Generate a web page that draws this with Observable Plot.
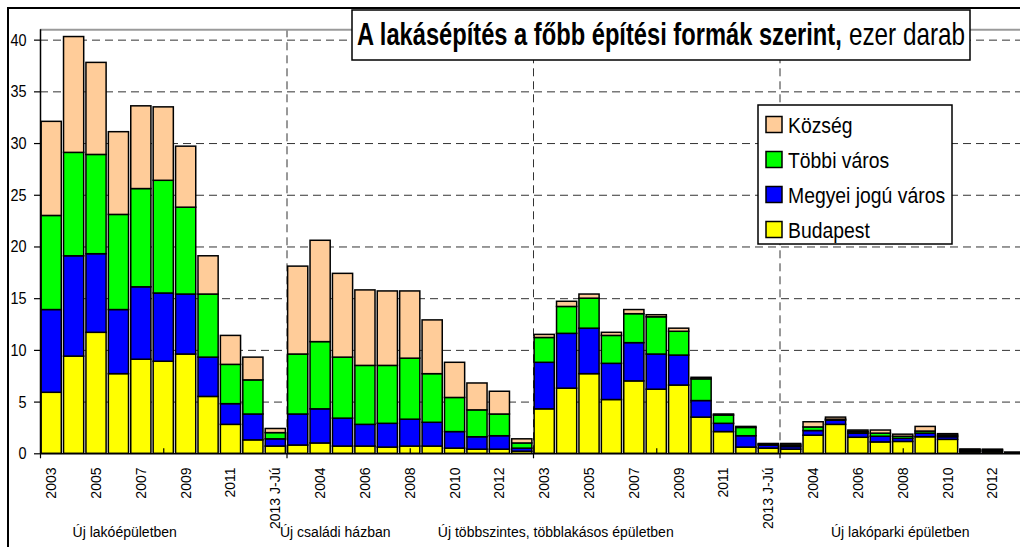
<!DOCTYPE html>
<html><head><meta charset="utf-8">
<script src="https://cdn.jsdelivr.net/npm/d3@7"></script>
<script src="https://cdn.jsdelivr.net/npm/@observablehq/plot@0.6"></script>
<style>
html,body{margin:0;padding:0;background:#fff;overflow:hidden;width:1020px;height:547px;}
#chart{position:relative;width:1020px;height:547px;overflow:hidden;}
</style></head><body><div id="chart"></div>
<script>
// ---------- data ----------
const titleBold = "A lakásépítés a főbb építési formák szerint,";
const titleRest = "ezer darab";
const periods = ["2003","2004","2005","2006","2007","2008","2009","2010","2011","2012","2013 J-Jú"];
const groups = ["Új lakóépületben","Új családi házban","Új többszintes, többlakásos épületben","Új lakóparki épületben"];
const seriesNames = ["Budapest","Megyei jogú város","Többi város","Község"];
const seriesColors = ["#ffff00","#0000ff","#00ff00","#ffcc99"];
const yTicks = [0,5,10,15,20,25,30,35,40];

const budapest = [
  5.9, 9.4, 11.7, 7.7, 9.1, 8.9, 9.6, 5.5, 2.8, 1.3, 0.7,
  0.8, 1.0, 0.7, 0.7, 0.6, 0.7, 0.7, 0.5, 0.4, 0.4, 0.2,
  4.3, 6.3, 7.7, 5.2, 7.0, 6.2, 6.6, 3.5, 2.1, 0.6, 0.5,
  0.4, 1.75, 2.8, 1.55, 1.1, 1.15, 1.6, 1.35, 0.15, 0.15, 0.05
];
const megyei = [
  8.0, 9.7, 7.6, 6.2, 7.0, 6.6, 5.8, 3.8, 2.0, 2.5, 0.7,
  3.0, 3.3, 2.7, 2.1, 2.3, 2.6, 2.3, 1.6, 1.2, 1.3, 0.3,
  4.5, 5.3, 4.4, 3.5, 3.7, 3.4, 2.9, 1.6, 0.8, 1.1, 0.3,
  0.25, 0.45, 0.4, 0.4, 0.55, 0.3, 0.35, 0.25, 0.1, 0.1, 0.02
];
const tobbi = [
  9.1, 10.0, 9.6, 9.2, 9.5, 10.9, 8.4, 6.1, 3.8, 3.3, 0.6,
  5.8, 6.5, 5.9, 5.7, 5.6, 5.9, 4.7, 3.3, 2.6, 2.1, 0.5,
  2.4, 2.6, 2.9, 2.7, 2.8, 3.6, 2.3, 2.1, 0.8, 0.8, 0.1,
  0.15, 0.35, 0.1, 0.15, 0.3, 0.2, 0.2, 0.15, 0.1, 0.1, 0.02
];
const kozseg = [
  9.1, 11.2, 8.9, 8.0, 8.0, 7.1, 5.9, 3.7, 2.8, 2.2, 0.4,
  8.5, 9.8, 8.1, 7.3, 7.2, 6.5, 5.2, 3.4, 2.6, 2.2, 0.4,
  0.3, 0.5, 0.4, 0.3, 0.4, 0.2, 0.3, 0.15, 0.1, 0.1, 0.05,
  0.15, 0.5, 0.2, 0.15, 0.3, 0.2, 0.45, 0.15, 0.07, 0.05, 0.01
];

// ---------- derived tables ----------
const seriesValues = [budapest, megyei, tobbi, kozseg];
const nPer = periods.length;
const nBars = groups.length * nPer;
const rows = [];
for (let k = 0; k < nBars; k++) {
  let cum = 0;
  seriesValues.forEach((arr, s) => {
    const v = arr[k];
    rows.push({idx: k, series: seriesNames[s], y1: cum, y2: cum + v});
    cum += v;
  });
}
const xLabels = [];
for (let k = 0; k < nBars; k += 2) xLabels.push({idx: k, label: periods[k % nPer]});
const boundaries = groups.map((g, i) => i * nPer);
const groupMids = groups.map((g, i) => i * nPer + nPer / 2);

// ---------- layout ----------
const W = 1020, H = 547;
const FONT = "'Liberation Sans', Arial, sans-serif";
const groupLabelDx = [-39, -75, -101, -3];
const gridStyle = {stroke: "#333", strokeDasharray: "8,5", strokeWidth: 1};

const plot = Plot.plot({
  width: W, height: H,
  marginLeft: 40, marginRight: -6, marginTop: 29.3, marginBottom: 93.7,
  x: {domain: [0, nBars], axis: null},
  y: {domain: [0, 41], ticks: yTicks, tickSize: 6, tickPadding: 8, label: null},
  color: {domain: seriesNames, range: seriesColors},
  style: {fontFamily: FONT, fontSize: "17px", color: "#000", background: "transparent", overflow: "hidden"},
  marks: [
    Plot.ruleY(yTicks.filter(d => d > 0), gridStyle),
    Plot.ruleX(boundaries.filter(d => d > 0), gridStyle),
    Plot.ruleY([41], {stroke: "#9a9a9a", strokeWidth: 2}),
    Plot.rect(rows, {x1: d => d.idx + 0.05, x2: d => d.idx + 0.95, y1: "y1", y2: "y2", fill: "series", stroke: "#000", strokeWidth: 1.5}),
    Plot.ruleX([0], {stroke: "#000", strokeWidth: 1.5}),
    Plot.ruleY([0], {stroke: "#000", strokeWidth: 1.5}),
    Plot.ruleX(boundaries, {y1: 0, y2: 0, insetBottom: -5, stroke: "#000", strokeWidth: 1.2}),
    Plot.ruleX(groupMids, {y1: 0, y2: 0, insetTop: -5, stroke: "#000", strokeWidth: 1.2}),
    Plot.text(xLabels, {x: d => d.idx + 0.5, frameAnchor: "bottom", text: "label", rotate: -90,
      textAnchor: "end", lineAnchor: "middle", dy: 13.7, fontSize: 14, fill: "#000", className: "xlab"}),
    ...groups.map((g, i) => Plot.text([g], {x: () => groupMids[i], frameAnchor: "bottom", text: d => d,
      textAnchor: "middle", lineAnchor: "middle", dy: 78.4, dx: groupLabelDx[i], fontSize: 14, fill: "#000", className: "glab"}))
  ]
});
document.getElementById("chart").appendChild(plot);

const svg = d3.select(plot);
function squeeze(sel, k) {
  sel.each(function() {
    const L = this.getComputedTextLength();
    this.setAttribute("textLength", (L * k).toFixed(2));
    this.setAttribute("lengthAdjust", "spacingAndGlyphs");
  });
}
// y tick labels
const ytext = svg.selectAll('[aria-label^="y-axis"] text');
ytext.attr("font-size", 17).style("font-size", "17px").attr("fill", "#000");
squeeze(ytext, 0.85);
svg.selectAll('[aria-label^="y-axis"] line, [aria-label^="y-axis"] path').attr("stroke", "#000").attr("stroke-width", 1.2);

// outer frame
svg.insert("rect", ":first-child").attr("x", 8).attr("y", 8).attr("width", 1100).attr("height", 1000)
  .attr("fill", "none").attr("stroke", "#000").attr("stroke-width", 2);

// title box (narrow lettering via horizontal scale)
const color = plot.scale("color");
const tg = svg.append("g").attr("text-anchor", "start");
tg.append("rect").attr("x", 352).attr("y", 10).attr("width", 618).attr("height", 50)
  .attr("fill", "#fff").attr("stroke", "#000").attr("stroke-width", 1.5);
function narrowText(parent, x, y, size, weight, str, targetWidth) {
  const t = parent.append("text").attr("x", 0).attr("y", 0).attr("font-size", size).attr("font-weight", weight)
    .attr("text-anchor", "start").attr("font-family", FONT).attr("fill", "#000").text(str);
  const L = t.node().getComputedTextLength();
  t.attr("transform", `translate(${x},${y}) scale(${(targetWidth / L).toFixed(4)},1)`);
  return t;
}
narrowText(tg, 357, 45, 31, "bold", titleBold, 485);
narrowText(tg, 849, 45, 31, "normal", titleRest, 116);

// legend box
const lg = svg.append("g").attr("text-anchor", "start");
lg.append("rect").attr("x", 758).attr("y", 105).attr("width", 194).attr("height", 139)
  .attr("fill", "#fff").attr("stroke", "#000").attr("stroke-width", 1.5);
const legendOrder = color.domain.slice().reverse();
legendOrder.forEach((name, j) => {
  const cy = 124.5 + j * 35;
  lg.append("rect").attr("x", 766).attr("y", cy - 8).attr("width", 16).attr("height", 16)
    .attr("fill", color.apply(name)).attr("stroke", "#000").attr("stroke-width", 1.5);
  const t = lg.append("text").attr("x", 788).attr("y", cy + 8).attr("font-size", 22)
    .attr("text-anchor", "start").attr("font-family", FONT).attr("fill", "#000").text(name);
  squeeze(t, 0.88);
});
</script></body></html>
